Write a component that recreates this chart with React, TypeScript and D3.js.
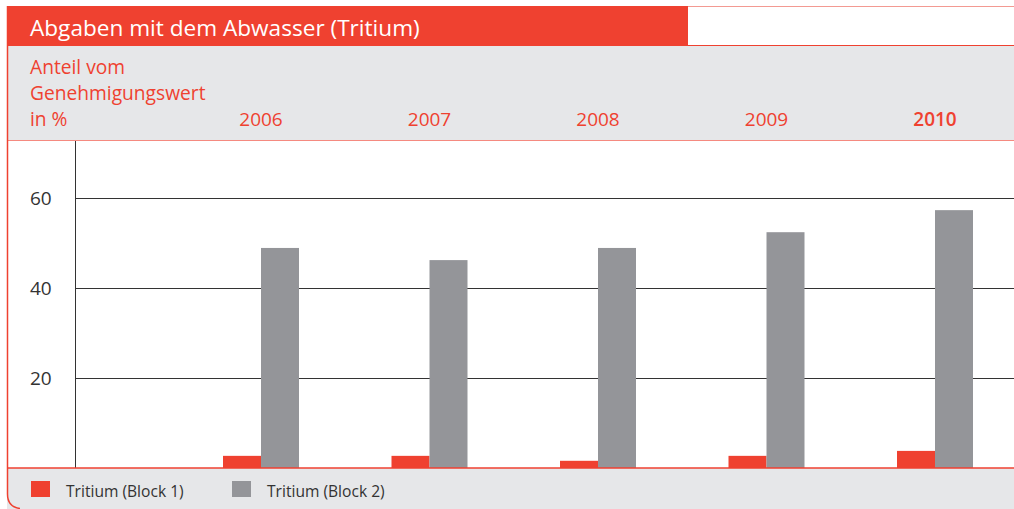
import React, { useEffect, useRef } from 'react';
import * as d3 from 'd3';

const years = ['2006', '2007', '2008', '2009', '2010'];
const block1 = [2.7, 2.7, 1.6, 2.7, 3.8];
const block2 = [48.9, 46.2, 48.9, 52.4, 57.3];
const yTicks = [20, 40, 60];
const seriesNames = ['Tritium (Block 1)', 'Tritium (Block 2)'];

const RED = '#ef4130';
const GRAY = '#949599';
const BAND = '#e6e7e9';
const FONT = '"Open Sans", "Noto Sans", sans-serif';

const App = () => {
  const svgRef = useRef<SVGSVGElement>(null);

  useEffect(() => {
    const w = 1014;
    const h = 509;
    const svg = d3.select(svgRef.current);
    svg.selectAll('*').remove();
    svg.attr('width', w).attr('height', h);

    // backgrounds
    svg.append('rect').attr('x', 7).attr('y', 46).attr('width', w - 7).attr('height', 94).attr('fill', BAND);
    svg.append('rect').attr('x', 7).attr('y', 468).attr('width', w - 7).attr('height', 41).attr('fill', BAND);
    svg.append('rect').attr('x', 7).attr('y', 6).attr('width', 681).attr('height', 40).attr('fill', RED);
    svg.append('line').attr('x1', 688).attr('x2', w).attr('y1', 6.5).attr('y2', 6.5).attr('stroke', '#f39a92');
    svg.append('line').attr('x1', 688).attr('x2', w).attr('y1', 45.5).attr('y2', 45.5).attr('stroke', RED);
    svg.append('line').attr('x1', 7).attr('x2', w).attr('y1', 140.5).attr('y2', 140.5).attr('stroke', '#f58a80');
    svg
      .append('path')
      .attr('d', 'M7.5,6 V494 Q7.5,507 20,508.5')
      .attr('fill', 'none')
      .attr('stroke', RED)
      .attr('stroke-width', 1.5);

    svg
      .append('text')
      .attr('x', 30)
      .attr('y', 36)
      .attr('fill', '#fff')
      .style('font-family', FONT)
      .style('font-size', '22.6px')
      .text('Abgaben mit dem Abwasser (Tritium)');

    ['Anteil vom', 'Genehmigungswert', 'in %'].forEach((t, i) => {
      svg
        .append('text')
        .attr('x', 30)
        .attr('y', 74 + i * 26)
        .attr('fill', RED)
        .style('font-family', FONT)
        .style('font-size', '19.2px')
        .text(t);
    });

    const x = d3.scalePoint().domain(years).range([261, 935]);
    const y = d3.scaleLinear().domain([0, 20]).range([468, 378]);
    const bw = 38;

    svg
      .selectAll('.yr')
      .data(years)
      .join('text')
      .attr('x', (d) => x(d))
      .attr('y', 126)
      .attr('text-anchor', 'middle')
      .attr('fill', RED)
      .style('font-family', FONT)
      .style('font-size', '19px')
      .style('font-weight', (d, i) => (i === years.length - 1 ? 600 : 'normal'))
      .text((d) => d);

    // grid
    svg
      .selectAll('.grid')
      .data(yTicks)
      .join('line')
      .attr('x1', 75)
      .attr('x2', w)
      .attr('y1', (d) => Math.round(y(d)) + 0.5)
      .attr('y2', (d) => Math.round(y(d)) + 0.5)
      .attr('stroke', '#333');
    svg
      .selectAll('.tick')
      .data(yTicks)
      .join('text')
      .attr('x', 30)
      .attr('y', (d) => y(d))
      .attr('dy', '0.35em')
      .attr('fill', '#333')
      .style('font-family', FONT)
      .style('font-size', '19px')
      .text((d) => d);

    svg.append('line').attr('x1', 75.5).attr('x2', 75.5).attr('y1', 141).attr('y2', 468).attr('stroke', '#333');

    svg
      .selectAll('.b1')
      .data(block1)
      .join('rect')
      .attr('x', (d, i) => x(years[i]) - bw)
      .attr('y', (d) => y(d))
      .attr('width', bw)
      .attr('height', (d) => y(0) - y(d))
      .attr('fill', RED);
    svg
      .selectAll('.b2')
      .data(block2)
      .join('rect')
      .attr('x', (d, i) => x(years[i]))
      .attr('y', (d) => y(d))
      .attr('width', bw)
      .attr('height', (d) => y(0) - y(d))
      .attr('fill', GRAY);

    svg.append('line').attr('x1', 7).attr('x2', w).attr('y1', 468).attr('y2', 468).attr('stroke', RED).attr('stroke-width', 1.5);

    // legend
    const colors = [RED, GRAY];
    const lx = [31, 232];
    seriesNames.forEach((s, i) => {
      svg.append('rect').attr('x', lx[i]).attr('y', 481).attr('width', 19).attr('height', 16).attr('fill', colors[i]);
      svg
        .append('text')
        .attr('x', lx[i] + 35)
        .attr('y', 497)
        .attr('fill', '#333')
        .style('font-family', FONT)
        .style('font-size', '15.6px')
        .text(s);
    });
  }, []);

  return (
    <div style={{ position: 'absolute', left: 0, top: 0 }}>
      <svg ref={svgRef} style={{ display: 'block' }}></svg>
    </div>
  );
};

export default App;
